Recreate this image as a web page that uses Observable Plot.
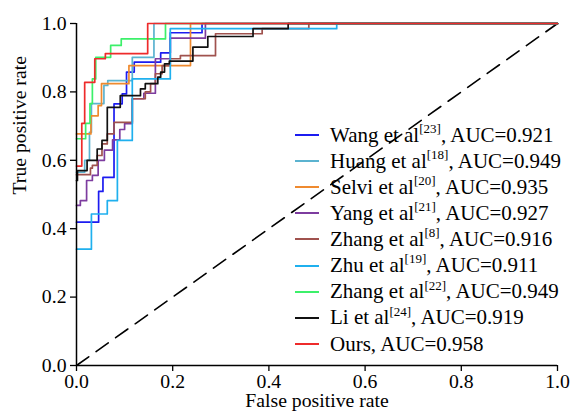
<!DOCTYPE html>
<html>
<head>
<meta charset="utf-8">
<script src="https://cdn.jsdelivr.net/npm/d3@7"></script>
<script src="https://cdn.jsdelivr.net/npm/@observablehq/plot@0.6"></script>
<style>
  html, body { margin: 0; padding: 0; background: #fff; }
  #wrap { position: relative; width: 574px; height: 415px; overflow: hidden; }
  #legend { position: absolute; left: 0; top: 0; width: 574px; height: 415px; pointer-events: none; }
  .sw { position: absolute; left: 295px; width: 24px; height: 2px; }
  .lab { position: absolute; left: 330px; white-space: nowrap; color: #000; line-height: 1; }
  .lab sup { vertical-align: 0; position: relative; line-height: 0; }
</style>
</head>
<body>
<div id="wrap"><div id="chart"></div><div id="legend"></div></div>
<script>
// ---- data ----
const names = ["Wang et al", "Huang et al", "Selvi et al", "Yang et al", "Zhang et al", "Zhu et al", "Zhang et al", "Li et al", "Ours"];
const refs = ["23", "18", "20", "21", "8", "19", "22", "24", ""];
const aucs = [0.921, 0.949, 0.935, 0.927, 0.916, 0.911, 0.949, 0.919, 0.958];

// step curves: tpr[i] holds from fpr[i] to fpr[i+1]
const wangFpr = [0, .046, .055, .078, .095, .104, .12, .175, .195, .261, 1];
const wangTpr = [.419, .509, .55, .765, .794, .858, .887, .914, .973, 1, 1];
const huangFpr = [0, .017, .027, .031, .057, .065, .116, .161, 1];
const huangTpr = [.565, .6, .682, .766, .819, .833, .901, 1, 1];
const selviFpr = [0, .03, .045, .052, .109, .237, 1];
const selviTpr = [.677, .73, .76, .824, .877, 1, 1];
const yangFpr = [0, .008, .021, .033, .045, .058, .075, .09, .1, .116, .14, .164, .195, .268, 1];
const yangTpr = [.468, .482, .541, .556, .6, .63, .66, .69, .707, .78, .796, .897, .957, 1, 1];
const zhang8Fpr = [0, .029, .033, .043, .053, .064, .078, .116, .143, .154, .164, .178, .195, .216, .289, .386, .483, 1];
const zhang8Tpr = [.558, .577, .585, .614, .648, .677, .711, .78, .8, .824, .853, .877, .897, .906, .97, .985, 1, 1];
const zhuFpr = [0, .031, .064, .085, .116, .195, .541, 1];
const zhuTpr = [.34, .443, .482, .658, .838, .985, 1, 1];
const zhang22Fpr = [0, .019, .028, .033, .040, .071, .093, .185, 1];
const zhang22Tpr = [.663, .708, .766, .838, .901, .936, .955, 1, 1];
const liFpr = [0, .002, .022, .043, .053, .064, .091, .133, .143, .169, .175, .183, .193, .242, .273, .367, .44, 1];
const liTpr = [.541, .57, .6, .633, .658, .755, .789, .809, .824, .843, .858, .882, .89, .931, .962, .985, 1, 1];
const oursFpr = [0, .011, .017, .038, .06, .148, 1];
const oursTpr = [.583, .708, .828, .897, .912, 1, 1];

const chance = [0, 1];
const xTicks = [0, 0.2, 0.4, 0.6, 0.8, 1.0];
const yTicks = [0, 0.2, 0.4, 0.6, 0.8, 1.0];
const xTitle = "False positive rate";
const yTitle = "True positive rate";

// ---- styles ----
const colors = ["#1c1cf0", "#5bb3d0", "#ef8a2f", "#7d3c9f", "#a0524e", "#1fb0ee", "#3cf06a", "#111111", "#ee2b2b"];

// pick an installed serif face and size it to Times-like widths
function hasFont(f) {
  const c = document.createElement("canvas").getContext("2d");
  const s = "mmmwwwiiilll AUC=0.921 Wg";
  c.font = "40px monospace";
  const a = c.measureText(s).width;
  c.font = `40px '${f}', monospace`;
  const b = c.measureText(s).width;
  return Math.abs(a - b) > 0.5;
}
const candidates = ["Liberation Serif", "Tinos", "Times New Roman", "Nimbus Roman", "Nimbus Roman No9 L", "DejaVu Serif", "Noto Serif"];
const face = candidates.find(hasFont) || "serif";
const family = `'${face}', serif`;
const ctx = document.createElement("canvas").getContext("2d");
ctx.font = `21px ${family}`;
const measured = ctx.measureText("AUC=0.921").width;
const fs = Math.max(15, Math.min(22, 21 * 103.4 / measured));
const afs = fs * 0.94;   // axis text size

const curves = [
  [wangFpr, wangTpr], [huangFpr, huangTpr], [selviFpr, selviTpr], [yangFpr, yangTpr],
  [zhang8Fpr, zhang8Tpr], [zhuFpr, zhuTpr], [zhang22Fpr, zhang22Tpr], [liFpr, liTpr], [oursFpr, oursTpr]
];

const fmt = d3.format(".1f");

const chart = Plot.plot({
  width: 574,
  height: 415,
  marginLeft: 76,
  marginRight: 17,
  marginTop: 23,
  marginBottom: 50,
  style: { fontFamily: family, fontSize: afs + "px", color: "#000", background: "#fff" },
  x: { domain: [0, 1], label: null },
  y: { domain: [0, 1], label: null },
  marks: [
    Plot.line(chance.map(v => ({ v })), { x: "v", y: "v", stroke: "#000", strokeWidth: 1.6, strokeDasharray: "15,9" }),
    ...curves.map(([f, t], k) => Plot.line(f.map((v, i) => ({ fpr: v, tpr: t[i] })), {
      x: "fpr", y: "tpr", curve: "step-after", stroke: colors[k], strokeWidth: 1.7
    })),
    Plot.axisX({ ticks: xTicks, tickFormat: fmt, tickSize: 6, tickPadding: 2, label: null, fontSize: afs, strokeWidth: 1.3 }),
    Plot.axisY({ ticks: yTicks, tickFormat: fmt, tickSize: 6, tickPadding: 4, label: null, fontSize: afs, strokeWidth: 1.3 }),
    Plot.ruleX([0], { stroke: "#000", strokeWidth: 1.5 }),
    Plot.ruleY([0], { stroke: "#000", strokeWidth: 1.5 }),
    Plot.text([xTitle], { text: d => d, frameAnchor: "bottom", dy: 41.5, fontSize: afs }),
    Plot.text([yTitle], { text: d => d, frameAnchor: "left", dx: -57, rotate: -90, fontSize: afs })
  ]
});
document.getElementById("chart").appendChild(chart);

// ---- legend ----
const legend = document.getElementById("legend");
names.forEach((n, k) => {
  const cy = 135 + 26.1 * k;           // swatch centre
  const sw = document.createElement("div");
  sw.className = "sw";
  sw.style.top = Math.round(cy - 1) + "px";
  sw.style.background = colors[k];
  const lab = document.createElement("div");
  lab.className = "lab";
  lab.style.fontFamily = family;
  lab.style.fontSize = fs + "px";
  lab.style.top = (cy - 0.49 * fs) + "px";
  lab.appendChild(document.createTextNode(n));
  if (refs[k]) {
    const s = document.createElement("sup");
    s.style.fontSize = (fs * 0.62) + "px";
    s.style.top = (-0.42 * fs) + "px";
    s.textContent = "[" + refs[k] + "]";
    lab.appendChild(s);
  }
  lab.appendChild(document.createTextNode(", AUC=" + aucs[k].toFixed(3)));
  legend.appendChild(sw);
  legend.appendChild(lab);
});
</script>
</body>
</html>
